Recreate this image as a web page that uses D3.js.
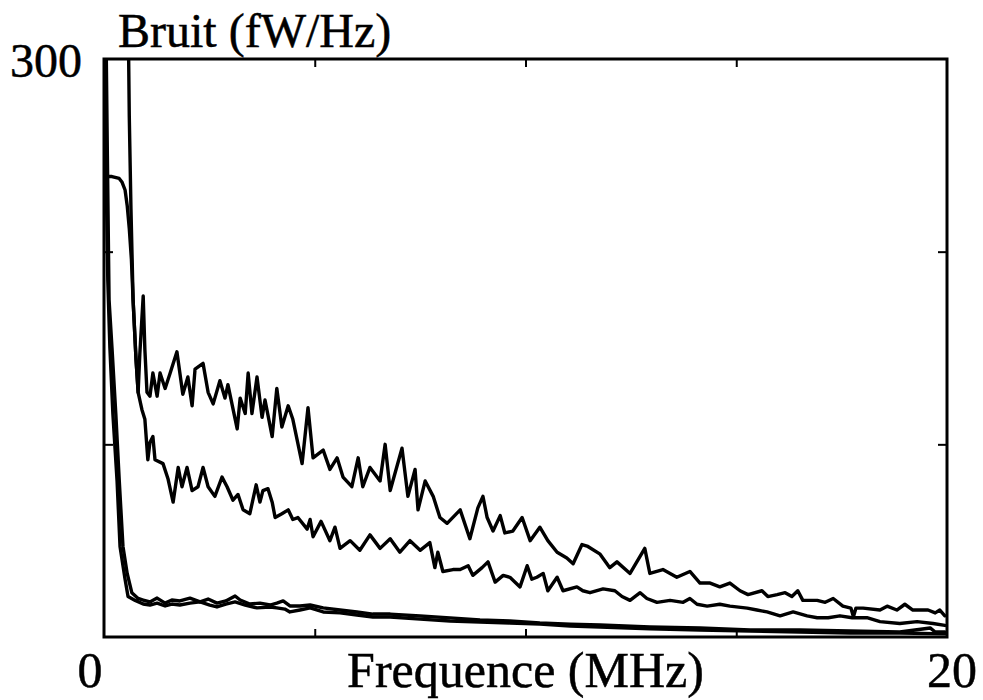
<!DOCTYPE html>
<html>
<head>
<meta charset="utf-8">
<script src="https://cdn.jsdelivr.net/npm/d3@7/dist/d3.min.js"></script>
<style>
  html, body { margin: 0; background: #fff; }
  svg { display: block; }
  text { font-family: "Liberation Serif", "Times New Roman", serif; fill: #000; stroke: #000; stroke-width: 0.5px; }
</style>
</head>
<body>
<svg id="chart" width="983" height="700"></svg>
<script>
// Noise spectra: frequency (MHz) and noise density (fW/Hz), four measurements.
const freqA = [0.54,0.57,0.60,0.64,0.69,0.76,0.81,0.85,0.93,0.97,
  1.02,1.09,1.16,1.26,1.33,1.45,1.57,1.73,1.87,1.99,
  2.09,2.16,2.35,2.47,2.59,2.75,2.87,2.94,3.16,3.23,
  3.35,3.42,3.51,3.63,3.75,3.82,3.99,4.10,4.22,4.37,
  4.48,4.70,4.84,4.96,5.20,5.36,5.53,5.67,5.88,6.03,
  6.14,6.31,6.55,6.67,6.79,7.07,7.21,7.38,7.45,7.62,
  7.81,7.97,8.14,8.45,8.68,8.87,8.99,9.09,9.23,9.40,
  9.51,9.70,9.92,10.11,10.34,10.53,10.75,10.98,11.13,11.34,
  11.48,11.77,12.00,12.17,12.48,12.83,12.95,13.26,13.59,13.90,
  14.14,14.38,14.61,14.85,15.09,15.28,15.61,15.75,15.97,16.16,
  16.32,16.46,16.58,16.92,17.11,17.30,17.53,17.72,17.78,17.84,
  18.01,18.41,18.58,18.81,19.00,19.19,19.55,19.72,19.83,19.95];
const bruitA = [420,330,270,222,175,144,127,147,177,149,
  127,125,137,125,137,129,137,148,126,135,
  120,139,142,127,121,133,124,131,108,124,
  116,137,116,135,114,123,104,129,109,120,
  113,90,119,93,97,87,93,83,78,93,
  78,88,81,100,76,98,73,87,66,81,
  73,62,59,66,51,67,73,62,55,63,
  54,55,62,50,57,50,44,41,38,48,
  47,43,36,39,33,46,33,35,31,34,
  28,28,26,28,24,22,24,21,22,23,
  21,24,19,19,18,20,16,15,10.5,15,
  15,14,16,14,17,14,14,12.5,14,11];

const freqB = [0.00,0.19,0.36,0.43,0.50,0.55,0.60,0.65,0.69,0.76,
  0.81,0.90,0.97,1.04,1.09,1.16,1.21,1.40,1.52,1.64,
  1.76,1.85,1.97,2.09,2.23,2.35,2.47,2.63,2.80,2.92,
  3.06,3.18,3.30,3.46,3.61,3.70,3.77,3.89,3.99,4.06,
  4.22,4.37,4.48,4.60,4.82,4.89,4.96,5.15,5.36,5.48,
  5.60,5.84,6.07,6.31,6.55,6.79,7.02,7.26,7.50,7.73,
  7.85,7.92,8.04,8.28,8.45,8.64,8.75,8.97,9.11,9.28,
  9.47,9.63,9.87,10.04,10.15,10.27,10.42,10.53,10.75,10.89,
  11.22,11.36,11.53,11.84,12.12,12.29,12.48,12.72,12.88,13.12,
  13.43,13.74,13.90,14.07,14.31,14.61,14.85,15.26,15.49,15.73,
  16.04,16.35,16.68,16.92,17.18,17.46,17.75,18.10,18.41,18.88,
  19.29,19.67,19.95];
const bruitB = [239,239,238,236,232,224,212,196,175,144,
  127,118,113,92,101,104,92,90,82,70,
  88,78,88,76,78,88,78,73,83,78,
  71,74,66,64,79,70,76,77,70,62,
  64,66,61,62,56,61,52,60,50,57,
  46,50,45,53,46,51,44,50,45,49,
  36,44,34,35,35,37,32,36,39,28.5,
  32,31,26,37,30,31,33,24,31,24,
  26,24,23,25,24,21,19,23,20,18,
  19,18,20,17,16,17,16,15,14,13,
  11,13,11,10,10,11,10,10,8,7,
  8,7,6];

const freqC = [0.00,0.04,0.08,0.12,0.19,0.28,0.36,0.45,0.55,0.66,0.81,
  0.93,1.09,1.26,1.45,1.61,1.80,2.04,2.28,2.47,2.68,
  2.89,3.11,3.23,3.46,3.70,3.94,4.10,4.25,4.41,4.65,
  4.89,5.20,5.60,6.00,6.38,6.79,7.50,8.21,8.92,9.63,
  10.34,11.06,11.77,12.95,14.14,15.33,16.51,17.70,18.88,19.60,
  19.72,19.95];
const bruitC = [420,330,250,175,150,116,82,47,33,23,20,
  19.2,18.2,20.2,17.6,19.2,18.7,20.2,18.2,19.7,17.6,
  18.7,21.3,19.2,17.1,17.6,16.6,17.6,18.7,16.1,16.1,
  16.6,15.1,14.0,13.0,11.9,11.9,10.9,9.9,8.8,8.3,
  7.3,6.7,6.2,5.2,4.7,3.6,3.6,3.1,2.6,4.7,
  2.6,2.6];

const freqD = [0.00,0.02,0.05,0.09,0.14,0.21,0.31,0.38,0.50,0.57,0.74,
  0.93,1.09,1.26,1.45,1.61,1.80,2.04,2.28,2.51,2.68,
  2.89,3.11,3.35,3.63,3.94,4.10,4.29,4.41,4.65,4.89,
  5.20,5.60,6.00,6.38,6.79,7.50,8.21,8.92,9.63,10.34,
  11.06,11.77,12.95,14.14,15.33,16.51,17.70,18.88,19.95];
const bruitD = [420,330,240,185,150,116,81,47,30,21,19,
  17.1,16.6,17.6,16.1,17.1,16.6,17.6,18.2,16.6,15.6,
  17.1,18.2,16.6,15.1,15.6,15.1,14.5,13.0,14.0,15.1,
  13.0,12.5,11.4,10.4,10.4,9.3,8.3,7.8,7.3,6.7,
  5.7,5.2,4.2,3.6,3.1,2.6,2.1,2.1,1.6];

// Axis set-up
const xDomain = [0, 20];
const yDomain = [0, 300];
const xTicks = [5, 10, 15];
const yTicks = [100, 200];
const xEndLabels = ["0", "20"];
const yTopLabel = "300";
const xTitle = "Frequence (MHz)";
const yTitle = "Bruit (fW/Hz)";

const W = 983, H = 700;
const box = { left: 104, right: 947, top: 59, bottom: 637 };

const svg = d3.select("#chart");
svg.append("rect").attr("width", W).attr("height", H).attr("fill", "#fff");

const x = d3.scaleLinear().domain(xDomain).range([box.left, box.right]);
const y = d3.scaleLinear().domain(yDomain).range([box.bottom, box.top]);

svg.append("clipPath").attr("id", "plot-area")
  .append("rect")
  .attr("x", box.left).attr("y", box.top)
  .attr("width", box.right - box.left).attr("height", box.bottom - box.top);

// Spectra
const series = [
  [freqA, bruitA],
  [freqB, bruitB],
  [freqC, bruitC],
  [freqD, bruitD]
];
const line = d3.line().x(d => x(d[0])).y(d => y(d[1]));

svg.append("g").attr("clip-path", "url(#plot-area)")
  .selectAll("path")
  .data(series.map(([f, v]) => f.map((fi, i) => [fi, v[i]])))
  .join("path")
  .attr("d", line)
  .attr("fill", "none")
  .attr("stroke", "#000")
  .attr("stroke-width", 3.4)
  .attr("stroke-linejoin", "round")
  .attr("stroke-linecap", "round");

// Inward ticks on all four sides
function styleAxis(g) {
  g.select(".domain").remove();
  g.selectAll(".tick line").attr("stroke", "#000").attr("stroke-width", 2);
  g.selectAll(".tick text").remove();
}
svg.append("g").attr("transform", `translate(0,${box.bottom})`)
  .call(d3.axisBottom(x).tickValues(xTicks).tickSize(-8).tickFormat("")).call(styleAxis);
svg.append("g").attr("transform", `translate(0,${box.top})`)
  .call(d3.axisTop(x).tickValues(xTicks).tickSize(-8).tickFormat("")).call(styleAxis);
svg.append("g").attr("transform", `translate(${box.left},0)`)
  .call(d3.axisLeft(y).tickValues(yTicks).tickSize(-9).tickFormat("")).call(styleAxis);
svg.append("g").attr("transform", `translate(${box.right},0)`)
  .call(d3.axisRight(y).tickValues(yTicks).tickSize(-9).tickFormat("")).call(styleAxis);

// Frame
svg.append("rect")
  .attr("x", box.left).attr("y", box.top)
  .attr("width", box.right - box.left).attr("height", box.bottom - box.top)
  .attr("fill", "none").attr("stroke", "#000").attr("stroke-width", 3);

// Labels
svg.append("text").attr("x", x(xDomain[0]) - 14).attr("y", 687)
  .attr("text-anchor", "middle").attr("font-size", 50).text(xEndLabels[0]);
svg.append("text").attr("x", x(xDomain[1]) + 5).attr("y", 687)
  .attr("text-anchor", "middle").attr("font-size", 50).text(xEndLabels[1]);
svg.append("text").attr("x", (box.left + box.right) / 2).attr("y", 687)
  .attr("text-anchor", "middle").attr("font-size", 50).text(xTitle);
svg.append("text").attr("x", x(xDomain[0]) - 22).attr("y", y(yDomain[1]) + 18)
  .attr("text-anchor", "end").attr("font-size", 48).text(yTopLabel);
svg.append("text").attr("x", 118).attr("y", 47)
  .attr("text-anchor", "start").attr("font-size", 48).text(yTitle);
</script>
</body>
</html>
